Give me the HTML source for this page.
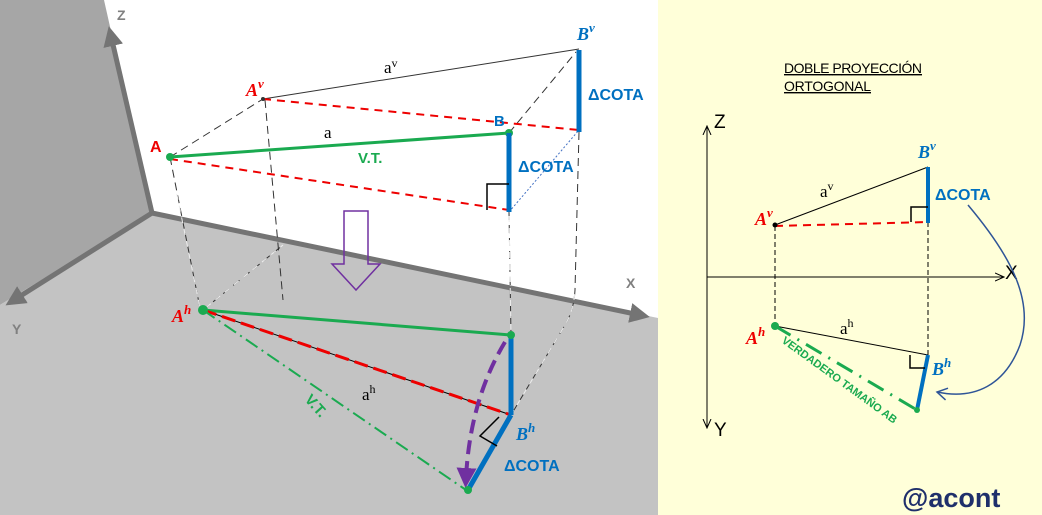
<!DOCTYPE html>
<html><head><meta charset="utf-8"><style>
html,body{margin:0;padding:0;width:1042px;height:515px;overflow:hidden;background:#fff}
svg{display:block}
.s{font-family:"Liberation Sans",sans-serif}
.r{font-family:"Liberation Serif",serif}
</style></head><body>
<svg width="1042" height="515" viewBox="0 0 1042 515" xmlns="http://www.w3.org/2000/svg">
<defs>
<marker id="ga" markerWidth="4" markerHeight="4" refX="2" refY="2" orient="auto" markerUnits="strokeWidth"><path d="M0,0 L4,2 L0,4 z" fill="#747474"/></marker>
<marker id="pa" markerWidth="5" markerHeight="5" refX="2.5" refY="2.5" orient="auto" markerUnits="strokeWidth"><path d="M0,0 L5,2.5 L0,5 z" fill="#7030a0"/></marker>
<marker id="ka" markerWidth="10" markerHeight="10" refX="9" refY="5" orient="auto" markerUnits="userSpaceOnUse"><path d="M0,1 L9,5 L0,9" fill="none" stroke="#000" stroke-width="1"/></marker>
<marker id="ba" markerWidth="14" markerHeight="14" refX="12" refY="7" orient="auto" markerUnits="userSpaceOnUse"><path d="M2,1 L12,7 L2,13" fill="none" stroke="#2f5597" stroke-width="1.5"/></marker>
</defs>
<g class="s">
<rect x="0" y="0" width="658" height="515" fill="#fff"/>
<polygon points="0,0 104,0 152,213 0,305" fill="#a6a6a6"/>
<polygon points="0,305 152,213 658,318 658,515 0,515" fill="#c3c3c3"/>
<line x1="152" y1="213" x2="111" y2="36" stroke="#747474" stroke-width="5" marker-end="url(#ga)"/>
<line x1="152" y1="213" x2="14" y2="300" stroke="#747474" stroke-width="5" marker-end="url(#ga)"/>
<line x1="152" y1="213" x2="640" y2="315" stroke="#747474" stroke-width="5" marker-end="url(#ga)"/>
<text x="117" y="20" font-size="14" font-weight="bold" fill="#808080">Z</text>
<text x="12" y="334" font-size="14" font-weight="bold" fill="#808080">Y</text>
<text x="626" y="288" font-size="14" font-weight="bold" fill="#808080">X</text>
<g stroke="#333" stroke-width="1" stroke-dasharray="8,5" fill="none">
<line x1="170" y1="157" x2="263" y2="99"/>
<line x1="509" y1="133" x2="576" y2="52"/>
<line x1="170" y1="157" x2="200" y2="308"/>
<line x1="265" y1="100" x2="283" y2="300"/>
<line x1="509" y1="212" x2="511" y2="335"/>
<line x1="579" y1="132" x2="575" y2="290"/>
<path d="M575,290 Q574,310 565,325 L511,415"/>
<line x1="203" y1="310" x2="283" y2="245"/>
</g>
<g stroke="#eee" stroke-width="1" stroke-dasharray="6,6" stroke-dashoffset="8" fill="none">
<line x1="176" y1="190" x2="200" y2="308"/>
<line x1="203" y1="310" x2="283" y2="245"/>
<line x1="509" y1="212" x2="511" y2="335"/>
<path d="M575,290 Q574,310 565,325 L511,415"/>
</g>
<line x1="263" y1="99" x2="579" y2="49" stroke="#333" stroke-width="1"/>
<line x1="509" y1="212" x2="579" y2="130" stroke="#4472c4" stroke-width="1" stroke-dasharray="2,2"/>
<line x1="263" y1="99" x2="579" y2="130" stroke="#e00" stroke-width="2" stroke-dasharray="8,6"/>
<line x1="170" y1="159" x2="509" y2="210" stroke="#e00" stroke-width="2" stroke-dasharray="8,6"/>
<line x1="170" y1="157" x2="509" y2="133" stroke="#1aaa50" stroke-width="3"/>
<circle cx="170" cy="157" r="4" fill="#1aaa50"/><circle cx="509" cy="133" r="4" fill="#1aaa50"/>
<line x1="509" y1="133" x2="509" y2="212" stroke="#0070c0" stroke-width="5"/>
<line x1="579" y1="50" x2="579" y2="132" stroke="#0070c0" stroke-width="5"/>
<circle cx="263" cy="99" r="2" fill="#333"/>
<path d="M487,210 L487,184 L509,184" fill="none" stroke="#000" stroke-width="1.5"/>
<text x="150" y="152" font-size="16" font-weight="bold" fill="#e00">A</text>
<text x="494" y="126" font-size="15" font-weight="bold" fill="#0070c0">B</text>
<text class="r" x="246" y="96" font-size="18" font-weight="bold" font-style="italic" fill="#e00">A<tspan font-size="13" dy="-8">v</tspan></text>
<text class="r" x="577" y="40" font-size="18" font-weight="bold" font-style="italic" fill="#0070c0">B<tspan font-size="13" dy="-8">v</tspan></text>
<text class="r" x="384" y="73" font-size="17" fill="#000">a<tspan font-size="12" dy="-6">v</tspan></text>
<text class="r" x="324" y="138" font-size="17" fill="#000">a</text>
<text x="358" y="163" font-size="15" font-weight="bold" fill="#1aaa50">V.T.</text>
<text x="588" y="100" font-size="16" font-weight="bold" fill="#0070c0">ΔCOTA</text>
<text x="518" y="172" font-size="16" font-weight="bold" fill="#0070c0">ΔCOTA</text>
<path d="M344,211 L368,211 L368,264 L380,264 L356,290 L332,264 L344,264 Z" fill="none" stroke="#7030a0" stroke-width="1.5"/>
<line x1="203" y1="310" x2="511" y2="335" stroke="#1aaa50" stroke-width="3"/>
<line x1="203" y1="310" x2="511" y2="415" stroke="#000" stroke-width="1"/>
<line x1="203" y1="310" x2="511" y2="415" stroke="#e00" stroke-width="3" stroke-dasharray="14,6"/>
<line x1="203" y1="310" x2="466" y2="490" stroke="#1aaa50" stroke-width="2" stroke-dasharray="14,5,2,5"/>
<line x1="511" y1="335" x2="511" y2="415" stroke="#0070c0" stroke-width="5"/>
<line x1="511" y1="415" x2="468" y2="490" stroke="#0070c0" stroke-width="5"/>
<path d="M499,417 L480,436 L497,446" fill="none" stroke="#000" stroke-width="1.5"/>
<path d="M505,342 Q470,400 466,478" fill="none" stroke="#7030a0" stroke-width="4" stroke-dasharray="14,7" marker-end="url(#pa)"/>
<circle cx="203" cy="310" r="5" fill="#1aaa50"/>
<circle cx="511" cy="335" r="4" fill="#1aaa50"/>
<circle cx="468" cy="490" r="4" fill="#1aaa50"/>
<text class="r" x="172" y="322" font-size="18" font-weight="bold" font-style="italic" fill="#e00">A<tspan font-size="13" dy="-8">h</tspan></text>
<text class="r" x="516" y="440" font-size="18" font-weight="bold" font-style="italic" fill="#0070c0">B<tspan font-size="13" dy="-8">h</tspan></text>
<text class="r" x="362" y="400" font-size="17" fill="#000">a<tspan font-size="12" dy="-7">h</tspan></text>
<text x="504" y="471" font-size="16" font-weight="bold" fill="#0070c0">ΔCOTA</text>
<text transform="translate(304,400) rotate(48)" font-size="15" font-weight="bold" fill="#1aaa50">V.T.</text>
<rect x="658" y="0" width="384" height="515" fill="#ffffd9"/>
<text x="784" y="73" font-size="14" fill="#000" text-decoration="underline" textLength="138">DOBLE PROYECCIÓN</text>
<text x="784" y="91" font-size="14" fill="#000" text-decoration="underline" textLength="87">ORTOGONAL</text>
<line x1="707" y1="410" x2="707" y2="126" stroke="#000" stroke-width="1" marker-end="url(#ka)"/>
<line x1="707" y1="277" x2="1004" y2="277" stroke="#000" stroke-width="1" marker-end="url(#ka)"/>
<line x1="707" y1="277" x2="707" y2="428" stroke="#000" stroke-width="1" marker-end="url(#ka)"/>
<text x="714" y="128" font-size="19" fill="#000">Z</text>
<text x="1005" y="279" font-size="19" fill="#000">X</text>
<text x="714" y="436" font-size="19" fill="#000">Y</text>
<g stroke="#000" stroke-width="1" stroke-dasharray="5,3">
<line x1="775" y1="226" x2="775" y2="326"/>
<line x1="928" y1="222" x2="928" y2="355"/>
</g>
<line x1="775" y1="225" x2="928" y2="167" stroke="#000" stroke-width="1"/>
<line x1="775" y1="226" x2="928" y2="222" stroke="#e00" stroke-width="2" stroke-dasharray="8,6"/>
<line x1="928" y1="167" x2="928" y2="223" stroke="#0070c0" stroke-width="4"/>
<circle cx="775" cy="225" r="2.5" fill="#000"/>
<path d="M911,222 L911,207 L928,207" fill="none" stroke="#000" stroke-width="1.5"/>
<line x1="775" y1="326" x2="928" y2="355" stroke="#000" stroke-width="1"/>
<line x1="775" y1="326" x2="917" y2="410" stroke="#1aaa50" stroke-width="3" stroke-dasharray="18,8,2,8"/>
<line x1="928" y1="355" x2="917" y2="410" stroke="#0070c0" stroke-width="4"/>
<circle cx="775" cy="326" r="4" fill="#1aaa50"/>
<circle cx="917" cy="410" r="3" fill="#1aaa50"/>
<path d="M910,355 L910,368 L925,368" fill="none" stroke="#000" stroke-width="1.5"/>
<text class="r" x="755" y="225" font-size="18" font-weight="bold" font-style="italic" fill="#e00">A<tspan font-size="13" dy="-8">v</tspan></text>
<text class="r" x="918" y="158" font-size="18" font-weight="bold" font-style="italic" fill="#0070c0">B<tspan font-size="13" dy="-8">v</tspan></text>
<text class="r" x="746" y="344" font-size="18" font-weight="bold" font-style="italic" fill="#e00">A<tspan font-size="13" dy="-8">h</tspan></text>
<text class="r" x="932" y="375" font-size="18" font-weight="bold" font-style="italic" fill="#0070c0">B<tspan font-size="13" dy="-8">h</tspan></text>
<text class="r" x="820" y="197" font-size="17" fill="#000">a<tspan font-size="12" dy="-7">v</tspan></text>
<text class="r" x="840" y="334" font-size="17" fill="#000">a<tspan font-size="12" dy="-7">h</tspan></text>
<text x="935" y="200" font-size="16" font-weight="bold" fill="#0070c0">ΔCOTA</text>
<text transform="translate(781,342) rotate(36)" font-size="11" font-weight="bold" fill="#1aaa50">VERDADERO TAMAÑO AB</text>
<path d="M968,205 C1010,255 1035,300 1020,345 C1005,385 975,400 937,392" fill="none" stroke="#2f5597" stroke-width="1.5" marker-end="url(#ba)"/>
<text x="902" y="507" font-size="27" font-weight="bold" fill="#1f2f6b">@acont</text>
</g>
</svg>
</body></html>
